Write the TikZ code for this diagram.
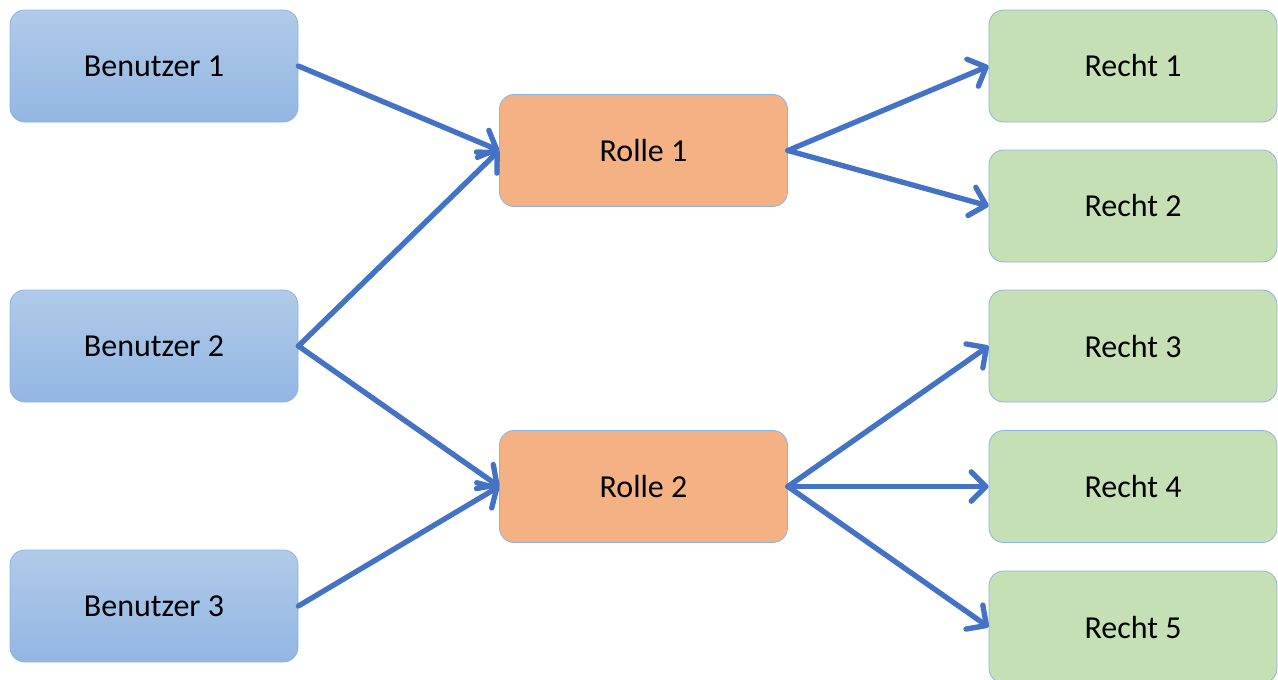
\documentclass[tikz,border=0pt]{standalone}
\usepackage{fontspec}
\setmainfont{Carlito}
\usetikzlibrary{arrows.meta}
\definecolor{userA}{HTML}{B0CBE9}
\definecolor{userB}{HTML}{93B6E2}
\definecolor{roleC}{HTML}{F4B183}
\definecolor{rightC}{HTML}{C5E0B4}
\definecolor{edgeC}{HTML}{8FB3E0}
\definecolor{arrowC}{HTML}{4472C4}

\begin{document}
\begin{tikzpicture}[x=0.75pt,y=-0.75pt,
  box/.style={draw=edgeC, line width=0.6pt, rounded corners=11pt,
    minimum width=216pt, minimum height=84pt, font=\fontsize{24}{29}\selectfont},
  user/.style={box, top color=userA, bottom color=userB},
  role/.style={box, fill=roleC},
  right/.style={box, fill=rightC},
  link/.style={draw=arrowC, line width=4pt, line cap=round,
    -{Straight Barb[length=11pt,width=22pt,line cap=round,line join=round]}}]
\useasboundingbox (0,0) rectangle (1278,679);
\foreach \n/\y in {1/66,2/346,3/606}{
\node[user] (b\n) at (154,\y) {Benutzer \n};
}
\node[role] (r1) at (643.5,150.5) {Rolle 1};
\node[role] (r2) at (643.5,486.5) {Rolle 2};
\foreach \n/\y in {1/66,2/206,3/346,4/486.5,5/627}{
\node[right] (p\n) at (1133,\y) {Recht \n};
}
\foreach \u/\v in {b1/r1,b2/r1,b2/r2,b3/r2,r1/p1,r1/p2,r2/p3,r2/p4,r2/p5}{
\draw[link] (\u.east) -- (\v.west);
}
\end{tikzpicture}
\end{document}
